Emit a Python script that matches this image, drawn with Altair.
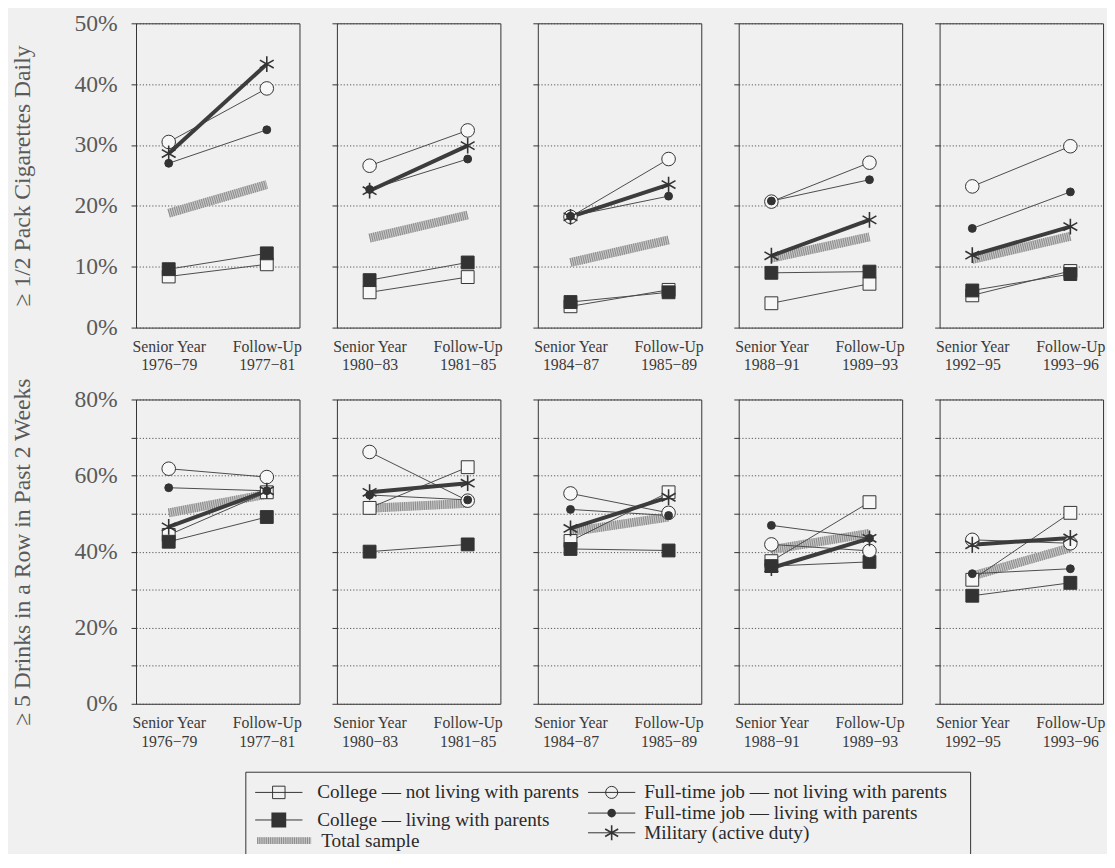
import altair as alt
import pandas as pd

FONT = "Liberation Serif"
BG = "#f0f0f0"
INK = "#333333"

# ---------------- data ----------------
series_keys = ["CN", "CL", "T", "FN", "FL", "M"]
series_names = [
    "College \u2014 not living with parents",
    "College \u2014 living with parents",
    "Total sample",
    "Full-time job \u2014 not living with parents",
    "Full-time job \u2014 living with parents",
    "Military (active duty)",
]

senior_years = ["1976\u221279", "1980\u221283", "1984\u221287", "1988\u221291", "1992\u221295"]
followup_years = ["1977\u221281", "1981\u221285", "1985\u221289", "1989\u221293", "1993\u221296"]

# >= 1/2 pack cigarettes daily (%): [senior year, follow-up] for each cohort panel
cig_college_away = [[8.4, 10.4], [5.8, 8.3], [3.5, 6.2], [4.0, 7.2], [5.3, 9.3]]
cig_college_home = [[9.6, 12.2], [7.8, 10.7], [4.2, 5.8], [9.0, 9.2], [6.1, 8.8]]
cig_total = [[18.8, 23.5], [14.7, 18.5], [10.7, 14.4], [11.4, 14.9], [11.2, 15.0]]
cig_job_away = [[30.5, 39.3], [26.6, 32.4], [18.2, 27.7], [20.7, 27.1], [23.2, 29.8]]
cig_job_home = [[27.0, 32.5], [22.7, 27.7], [18.3, 21.6], [20.8, 24.3], [16.3, 22.3]]
cig_military = [[28.6, 43.3], [22.5, 29.9], [18.2, 23.5], [11.8, 17.7], [11.9, 16.6]]

# >= 5 drinks in a row in past 2 weeks (%)
drk_college_away = [[44.4, 55.6], [51.5, 62.2], [42.8, 55.6], [37.5, 53.0], [32.6, 50.2]]
drk_college_home = [[42.6, 49.1], [40.0, 41.9], [40.7, 40.3], [36.2, 37.3], [28.4, 31.8]]
drk_total = [[50.2, 55.1], [51.4, 52.7], [45.2, 49.1], [40.5, 44.8], [33.6, 41.0]]
drk_job_away = [[61.8, 59.6], [66.2, 53.4], [55.3, 50.2], [41.9, 40.2], [43.1, 42.2]]
drk_job_home = [[56.8, 56.0], [54.9, 53.6], [51.1, 49.5], [46.9, 43.5], [34.2, 35.5]]
drk_military = [[46.5, 56.0], [55.6, 58.0], [46.1, 54.3], [35.7, 43.5], [41.8, 43.6]]

cig_title = "\u2265 1/2 Pack Cigarettes Daily"
drk_title = "\u2265 5 Drinks in a Row in Past 2 Weeks"

cig_sets = dict(zip(series_keys, [cig_college_away, cig_college_home, cig_total,
                                  cig_job_away, cig_job_home, cig_military]))
drk_sets = dict(zip(series_keys, [drk_college_away, drk_college_home, drk_total,
                                  drk_job_away, drk_job_home, drk_military]))

STAR = "M0,-1L0,1M-0.87,-0.5L0.87,0.5M-0.87,0.5L0.87,-0.5"

PW, PH = 166, 309


def panel_df(sets, i):
    rows = []
    for k in series_keys:
        for stage in (0, 1):
            rows.append({"series": k, "stage": stage, "value": sets[k][i][stage]})
    return pd.DataFrame(rows)


def make_panel(sets, i, top, title, label_step):
    df = panel_df(sets, i)
    first = i == 0
    xaxis = alt.Axis(
        values=[0, 1],
        labelExpr=f"datum.value == 0 ? ['Senior Year', '{senior_years[i]}'] : ['Follow-Up', '{followup_years[i]}']",
        domain=False, ticks=False, grid=False, labelFont=FONT, labelFontSize=16,
        labelColor="#3a3a3a", labelPadding=11, labelLineHeight=19, labelOverlap=False,
        labelFlush=False, title=None,
    )
    yargs = dict(
        values=list(range(0, top + 1, 10)), grid=True, gridDash=[1.2, 2], gridColor="#444444",
        gridWidth=0.9, domain=False, ticks=True, tickSize=5, tickColor=INK, tickWidth=1,
    )
    if first:
        yargs.update(
            labelExpr=f"round(datum.value) % {label_step} == 0 ? datum.value + '%' : ''",
            labelFont=FONT, labelFontSize=24, labelColor="#5a5a5a", labelPadding=14,
            title=title, titleFont=FONT, titleFontSize=24, titleFontWeight="normal",
            titleColor="#5a5a5a", titlePadding=40,
        )
    else:
        yargs.update(labels=False, title=None)
    yaxis = alt.Axis(**yargs)

    base = alt.Chart(df).encode(
        x=alt.X("stage:Q", scale=alt.Scale(domain=[-1 / 3, 4 / 3], nice=False, zero=False), axis=xaxis),
        y=alt.Y("value:Q", scale=alt.Scale(domain=[0, top], nice=False), axis=yaxis),
    )

    def only(*keys):
        cond = " || ".join(f"datum.series == '{k}'" for k in keys)
        return base.transform_filter(cond)

    total_band = only("T").mark_line(strokeWidth=9, color="#c6c6c6", strokeCap="butt")
    total_tex = only("T").mark_line(strokeWidth=9, color="#8a8a8a", strokeDash=[1, 1.2], strokeCap="butt")
    thin = only("CN", "CL", "FN", "FL").mark_line(strokeWidth=1, color="#4a4a4a").encode(detail="series:N")
    mil = only("M").mark_line(strokeWidth=4, color="#3c3c3c")
    cn = only("CN").mark_point(shape="square", size=170, filled=True, fill="#f7f7f7", stroke=INK,
                               strokeWidth=1, opacity=1)
    cl = only("CL").mark_point(shape="square", size=170, filled=True, fill=INK, stroke=INK,
                               strokeWidth=1, opacity=1)
    fn = only("FN").mark_point(shape="circle", size=190, filled=True, fill="#f7f7f7", stroke=INK,
                               strokeWidth=1, opacity=1)
    fl = only("FL").mark_point(shape="circle", size=64, filled=True, fill=INK, stroke=INK,
                               strokeWidth=1, opacity=1)
    ms = only("M").mark_point(shape=STAR, size=260, filled=False, stroke=INK, strokeWidth=1.6, opacity=1)

    return alt.layer(total_band, total_tex, thin, mil, cn, cl, fn, fl, ms).properties(width=PW, height=PH)


top_row = alt.hconcat(*[make_panel(cig_sets, i, 50, cig_title, 10) for i in range(5)], spacing=29)
bottom_row = alt.hconcat(*[make_panel(drk_sets, i, 80, drk_title, 20) for i in range(5)], spacing=29)

# ---------------- legend ----------------
legend_df = pd.DataFrame({
    "key": series_keys,
    "label": series_names,
    "col": [0, 0, 0, 1, 1, 1],
    "row": [0, 1, 2, 0, 1, 2],
})

LW, LH = 736, 100


def legend_column(c, yrange, dx):
    d = legend_df[legend_df["col"] == c]
    base = alt.Chart(d).encode(
        x=alt.X("col:Q", scale=alt.Scale(domain=[0, 1], range=[34, 372]), axis=None),
        y=alt.Y("row:Q", scale=alt.Scale(domain=[0, 1, 2], range=yrange), axis=None),
    )

    def only(*keys):
        cond = " || ".join(f"datum.key == '{k}'" for k in keys)
        return base.transform_filter(cond)

    layers = [
        only("CN", "CL", "FN", "FL", "M").mark_rule(color=INK, strokeWidth=1, xOffset=-24, x2Offset=24)
        .encode(x2="col:Q"),
        only("T").mark_rule(color="#c6c6c6", strokeWidth=7, xOffset=-22, x2Offset=33).encode(x2="col:Q"),
        only("T").mark_rule(color="#8a8a8a", strokeWidth=7, strokeDash=[1, 1.2], xOffset=-22, x2Offset=33)
        .encode(x2="col:Q"),
        only("CN").mark_point(shape="square", size=160, filled=False, stroke=INK, strokeWidth=1, opacity=1),
        only("CL").mark_point(shape="square", size=170, filled=True, fill=INK, stroke=INK, opacity=1),
        only("FN").mark_point(shape="circle", size=150, filled=False, stroke=INK, strokeWidth=1, opacity=1),
        only("FL").mark_point(shape="circle", size=45, filled=True, fill=INK, stroke=INK, opacity=1),
        only("M").mark_point(shape=STAR, size=230, filled=False, stroke=INK, strokeWidth=1.6, opacity=1),
        base.transform_filter("datum.key != 'T'").mark_text(align="left", baseline="middle", dx=dx,
                                                             font=FONT, fontSize=19.5, color="#2a2a2a")
        .encode(text="label:N"),
        only("T").mark_text(align="left", baseline="middle", dx=dx + 4, font=FONT, fontSize=19.5,
                            color="#2a2a2a").encode(text="label:N"),
    ]
    return alt.layer(*layers)


legend = alt.layer(
    legend_column(0, [21, 49, 70], 39),
    legend_column(1, [21, 42, 62], 33),
).resolve_scale(y="independent").properties(width=LW, height=LH)

spacer = alt.Chart(pd.DataFrame({"v": [0]})).mark_point(opacity=0).encode(
    x=alt.value(0), y=alt.value(0)
).properties(width=109, height=10, view=alt.ViewBackground(stroke="transparent"))

legend_row = alt.hconcat(spacer, legend, spacing=0)

chart = alt.vconcat(
    alt.vconcat(top_row, bottom_row, spacing=3),
    legend_row,
    spacing=18,
).configure(
    background=BG,
    padding={"left": 2, "top": -4, "right": 1, "bottom": -24},
).configure_view(stroke=INK, strokeWidth=1)

chart.save("out.html", embed_options={"renderer": "svg", "actions": False})
